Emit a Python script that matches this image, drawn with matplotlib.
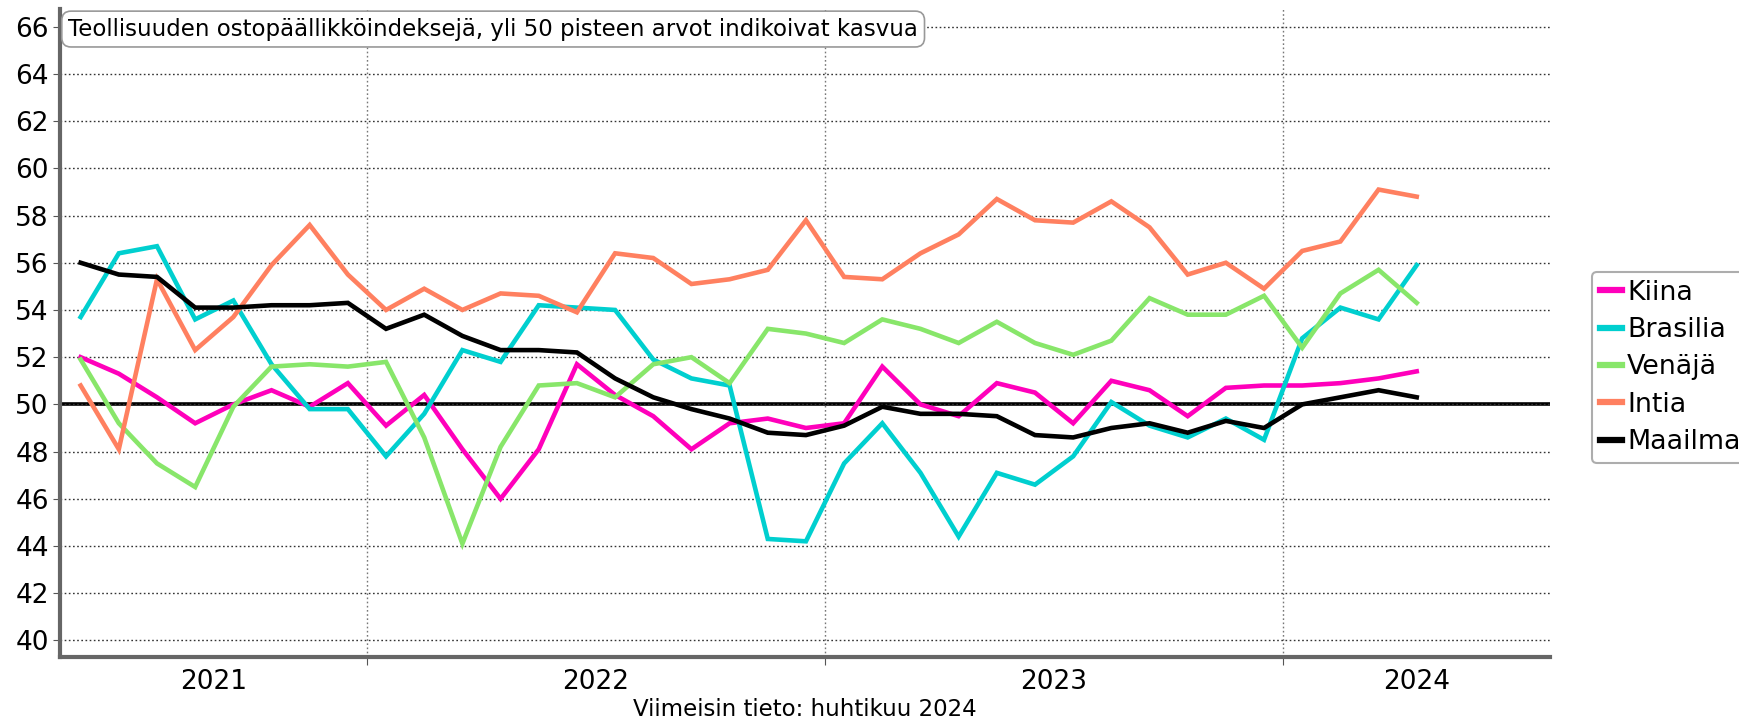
import numpy as np
import pandas as pd
import matplotlib
matplotlib.use("Agg")
import matplotlib.pyplot as plt

plt.rcParams['font.family'] = ['DejaVu Sans']

# monthly data, May 2021 - Apr 2024
months = pd.date_range("2021-05-01", periods=36, freq="MS")

kiina = [52.0, 51.3, 50.3, 49.2, 50.0, 50.6, 49.9, 50.9, 49.1, 50.4, 48.1, 46.0,
         48.1, 51.7, 50.4, 49.5, 48.1, 49.2, 49.4, 49.0, 49.2, 51.6, 50.0, 49.5,
         50.9, 50.5, 49.2, 51.0, 50.6, 49.5, 50.7, 50.8, 50.8, 50.9, 51.1, 51.4]
brasilia = [53.7, 56.4, 56.7, 53.6, 54.4, 51.7, 49.8, 49.8, 47.8, 49.6, 52.3, 51.8,
            54.2, 54.1, 54.0, 51.9, 51.1, 50.8, 44.3, 44.2, 47.5, 49.2, 47.1, 44.4,
            47.1, 46.6, 47.8, 50.1, 49.1, 48.6, 49.4, 48.5, 52.8, 54.1, 53.6, 55.9]
venaja = [51.9, 49.2, 47.5, 46.5, 49.9, 51.6, 51.7, 51.6, 51.8, 48.6, 44.1, 48.2,
          50.8, 50.9, 50.3, 51.7, 52.0, 50.9, 53.2, 53.0, 52.6, 53.6, 53.2, 52.6,
          53.5, 52.6, 52.1, 52.7, 54.5, 53.8, 53.8, 54.6, 52.4, 54.7, 55.7, 54.3]
intia = [50.8, 48.1, 55.3, 52.3, 53.7, 55.9, 57.6, 55.5, 54.0, 54.9, 54.0, 54.7,
         54.6, 53.9, 56.4, 56.2, 55.1, 55.3, 55.7, 57.8, 55.4, 55.3, 56.4, 57.2,
         58.7, 57.8, 57.7, 58.6, 57.5, 55.5, 56.0, 54.9, 56.5, 56.9, 59.1, 58.8]
maailma = [56.0, 55.5, 55.4, 54.1, 54.1, 54.2, 54.2, 54.3, 53.2, 53.8, 52.9, 52.3,
           52.3, 52.2, 51.1, 50.3, 49.8, 49.4, 48.8, 48.7, 49.1, 49.9, 49.6, 49.6,
           49.5, 48.7, 48.6, 49.0, 49.2, 48.8, 49.3, 49.0, 50.0, 50.3, 50.6, 50.3]

series = [("Kiina", kiina, "#ff00bb"),
          ("Brasilia", brasilia, "#00cfcf"),
          ("Venäjä", venaja, "#88e66a"),
          ("Intia", intia, "#ff8060"),
          ("Maailma", maailma, "black")]

title = "Teollisuuden ostopäällikköindeksejä, yli 50 pisteen arvot indikoivat kasvua"
note = "Viimeisin tieto: huhtikuu 2024"

x = np.arange(len(months))
xmin, xmax = -0.54, 38.5

fig = plt.figure(figsize=(17.4, 7.23), dpi=100)
ax = fig.add_axes([0.0345, 0.0913, 0.8565, 0.8963])

for name, vals, col in series:
    ax.plot(x, vals, color=col, lw=3.3, label=name, solid_joinstyle="miter")

ax.axhline(50, color="black", lw=2.6, zorder=1)

# year boundaries between Dec and Jan
jan = x[months.month == 1]
bounds = jan - 0.5
ax.set_xticks(bounds)
ax.set_xticklabels([])
edges = np.concatenate([[xmin], bounds, [xmax]])
centers = (edges[:-1] + edges[1:]) / 2
ax.set_xticks(centers, minor=True)
ax.set_xticklabels([str(y) for y in range(months[0].year, months[-1].year + 1)],
                   minor=True, fontsize=19)
ax.tick_params(axis="x", which="minor", length=0, pad=9)
ax.tick_params(axis="x", which="major", length=6, color="#555555", direction="out")

ax.set_xlim(xmin, xmax)
ax.set_ylim(39.3, 66.75)
ax.set_yticks(np.arange(40, 67, 2))
ax.tick_params(axis="y", labelsize=19, length=5, color="#555555", pad=3)

ax.grid(axis="y", color="#333333", ls=(0, (1.2, 1.8)), lw=1)
ax.grid(axis="x", which="major", color="#777777", ls=(0, (1.2, 1.8)), lw=1)

for s in ["top", "right"]:
    ax.spines[s].set_visible(False)
for s in ["left", "bottom"]:
    ax.spines[s].set_color("#666666")
    ax.spines[s].set_linewidth(3)

ax.set_xlabel(note, fontsize=16.5, labelpad=2)

ax.text(0.0055, 0.969, title, transform=ax.transAxes, fontsize=16.5,
        va="center", ha="left",
        bbox=dict(boxstyle="round,pad=0.28,rounding_size=0.4", fc="white",
                  ec="#999999", lw=1.2))

leg = ax.legend(loc="center left", bbox_to_anchor=(1.028, 0.447), fontsize=19.4,
                handlelength=0.8, handletextpad=0.2, labelspacing=0.42,
                borderpad=0.3, borderaxespad=0, frameon=True, fancybox=True)
leg.get_frame().set_edgecolor("#999999")
leg.get_frame().set_linewidth(1.5)
for h in leg.get_lines():
    h.set_linewidth(4.5)

fig.savefig("out.png", dpi=100)
